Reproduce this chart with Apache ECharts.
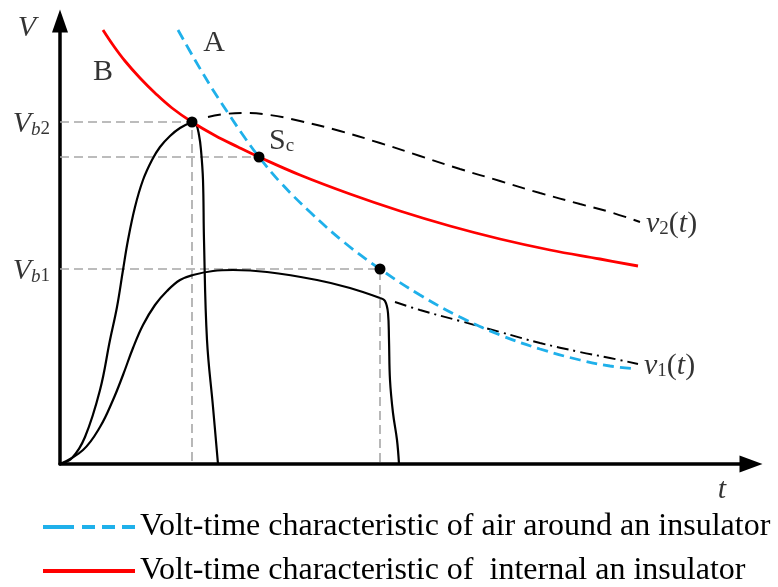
<!DOCTYPE html>
<html>
<head>
<meta charset="utf-8">
<script src="https://cdn.jsdelivr.net/npm/echarts@6/dist/echarts.min.js"></script>
<style>
  html, body { margin: 0; padding: 0; background: #ffffff; }
  #chart { width: 778px; height: 587px; }
</style>
</head>
<body>
<div id="chart"></div>
<script>
// Volt-time characteristics and impulse waveforms, [t, V] in arbitrary units.

// Curve A: volt-time characteristic of the air around the insulator
const airCurve = [[11.8,43.4],[13.5,40.4],[15.3,37.4],[17,34.8],[18.5,32.6],[19.9,30.7],[22,28.2],[25,25.2],
  [28.5,22.1],[32,19.5],[36,16.9],[40,14.7],[44,12.9],[48,11.5],[52,10.4],[55,9.8],[57.7,9.5]];

// Curve B: volt-time characteristic of the insulator's internal insulation
const internalCurve = [[4.3,43.4],[5.3,41.9],[6.5,40.3],[8,38.6],[9.5,37.1],[11.2,35.6],[13.2,34.2],[15.5,32.85],
  [17.8,31.7],[19.9,30.7],[24,28.9],[29,27],[34,25.3],[39,23.8],[44,22.5],[49,21.4],[54,20.5],[57.8,19.8]];

// Impulse v2(t): front up to breakdown, chopped tail, prospective wave
const v2Front = [[0,0],[1.2,0.6],[2.5,2.7],[4,7.4],[5,12.4],[5.7,15.7],[6.3,19.4],[6.8,22.4],[7.5,25.7],
  [8.3,28.4],[9.2,30.4],[10,31.7],[11,32.8],[12,33.6],[13.2,34.2]];
const v2Chopped = [[13.2,34.2],[13.6,34],[13.9,32.9],[14.1,31.4],[14.3,28.4],[14.4,22.4],[14.7,12.4],[15.3,5.7],[15.8,0]];
const v2Prospective = [[14.8,34.7],[16.5,35],[18.5,35.1],[21,34.9],[24,34.3],[28,33.3],[32,32.1],[36,30.8],
  [40,29.5],[44,28.3],[48,27.1],[52,26],[55,25.2],[58,24.2]];

// Impulse v1(t)
const v1Front = [[0,0],[2.3,1.4],[4,3.7],[5.3,6.4],[6.3,8.9],[7.3,11.6],[8.3,13.9],[9.5,15.9],[10.7,17.3],
  [12,18.4],[13.3,18.9],[15.3,19.3],[17.3,19.4],[20.7,19.2],[25.7,18.4],[29,17.6],[32,16.6]];
const v1Chopped = [[32,16.6],[32.5,16.3],[32.8,15.1],[32.9,12.4],[33,8.4],[33.3,5.1],[33.7,2.4],[33.9,0]];
const v1Prospective = [[33.5,16.2],[36,15.4],[40,14.3],[44,13.2],[48,12.1],[52,11.2],[55,10.6],[57.8,10]];

// Breakdown points
const pointVb2 = [13.2, 34.2];
const pointSc = [19.9, 30.7];
const pointVb1 = [32, 19.5];

const legendNames = [
  'Volt-time characteristic of air around an insulator',
  'Volt-time characteristic of  internal an insulator'
];

const SERIF = '"Liberation Serif", "Times New Roman", serif';
const BLUE = '#1fb0ea';
const RED = '#ff0000';

const richStyles = {
  iv: { fontFamily: SERIF, fontStyle: 'italic', fontSize: 30, color: '#000', verticalAlign: 'bottom', lineHeight: 30 },
  n: { fontFamily: SERIF, fontSize: 30, color: '#000', verticalAlign: 'bottom', lineHeight: 30 },
  isub: { fontFamily: SERIF, fontStyle: 'italic', fontSize: 19, color: '#000', verticalAlign: 'bottom', lineHeight: 22 },
  sub: { fontFamily: SERIF, fontSize: 19, color: '#000', verticalAlign: 'bottom', lineHeight: 22 }
};

function curve(data, color, width, type) {
  return {
    type: 'line', data: data, symbol: 'none', smooth: 0.4,
    lineStyle: { color: color, width: width, type: type || 'solid' }, silent: true, z: 3
  };
}

function guide(data) {
  return {
    type: 'line', data: data, symbol: 'none', silent: true, z: 1,
    lineStyle: { color: '#a6a6a6', width: 1.6, type: [9, 5] }
  };
}

function textAt(point, text, position, offset) {
  return {
    type: 'scatter', data: [point], symbolSize: 0, silent: true, clip: false, z: 10,
    label: {
      show: true, position: position || 'inside', offset: offset || [0, 0], distance: 6,
      formatter: text, rich: richStyles, color: '#000',
      textBorderWidth: 0, textBorderColor: 'transparent'
    }
  };
}

function legendRow(name, top, dash) {
  return {
    data: [name],
    orient: 'vertical', left: 36, top: top,
    itemWidth: 92, itemHeight: 14,
    itemStyle: { opacity: 0 },
    lineStyle: { width: 4, type: dash },
    textStyle: { fontFamily: SERIF, fontSize: 32, color: '#000' }
  };
}

const chart = echarts.init(document.getElementById('chart'));

chart.setOption({
  animation: false,
  backgroundColor: '#ffffff',
  grid: { left: 60, top: 21, right: 27, bottom: 123 },
  xAxis: {
    type: 'value', min: 0, max: 69.1,
    axisLine: { show: true, onZero: false, symbol: ['none', 'triangle'], symbolSize: [17, 23],
      lineStyle: { color: '#000', width: 3.5 } },
    axisTick: { show: false }, axisLabel: { show: false }, splitLine: { show: false }
  },
  yAxis: {
    type: 'value', min: 0, max: 44.3,
    axisLine: { show: true, onZero: false, symbol: ['none', 'triangle'], symbolSize: [16, 23],
      lineStyle: { color: '#000', width: 3.5 } },
    axisTick: { show: false }, axisLabel: { show: false }, splitLine: { show: false }
  },
  legend: [
    legendRow(legendNames[0], 506, [31, 8, 13, 7, 13, 7, 13, 200]),
    legendRow(legendNames[1], 550, 'solid')
  ],
  series: [
    // dashed guide lines to the axes
    guide([[0, pointVb2[1]], pointVb2, [pointVb2[0], 0]]),
    guide([[0, pointSc[1]], pointSc]),
    guide([[0, pointVb1[1]], pointVb1, [pointVb1[0], 0]]),

    // impulse waveforms
    curve(v2Front, '#000', 2.2),
    curve(v2Chopped, '#000', 2.2),
    curve(v2Prospective, '#000', 1.9, [13, 8]),
    curve(v1Front, '#000', 2.2),
    curve(v1Chopped, '#000', 2.2),
    curve(v1Prospective, '#000', 1.9, [12, 5, 2, 5]),

    // volt-time characteristics
    Object.assign(curve(airCurve, BLUE, 2.8, [11, 6]), { name: legendNames[0], z: 4 }),
    Object.assign(curve(internalCurve, RED, 2.8), { name: legendNames[1], z: 4 }),

    // breakdown points
    {
      type: 'scatter', data: [pointVb2, pointSc, pointVb1], symbol: 'circle', symbolSize: 11,
      itemStyle: { color: '#000', opacity: 1 }, silent: true, z: 6
    },

    // annotations
    textAt([-3.3, 43.6], '{iv|V}'),
    textAt([66.2, -2.6], '{iv|t}'),
    textAt([15.4, 42.1], '{n|A}'),
    textAt([4.3, 39.2], '{n|B}'),
    textAt([0, pointVb2[1]], '{iv|V}{isub|b}{sub|2}', 'left', [-4, 2]),
    textAt([0, pointVb1[1]], '{iv|V}{isub|b}{sub|1}', 'left', [-4, 2]),
    textAt(pointSc, '{n|S}{sub|c}', 'right', [4, -16]),
    textAt(v2Prospective[v2Prospective.length - 1], '{iv|v}{sub|2}{n|(}{iv|t}{n|)}', 'right', [0, 2]),
    textAt(v1Prospective[v1Prospective.length - 1], '{iv|v}{sub|1}{n|(}{iv|t}{n|)}', 'right', [0, 2])
  ]
});
</script>
</body>
</html>
